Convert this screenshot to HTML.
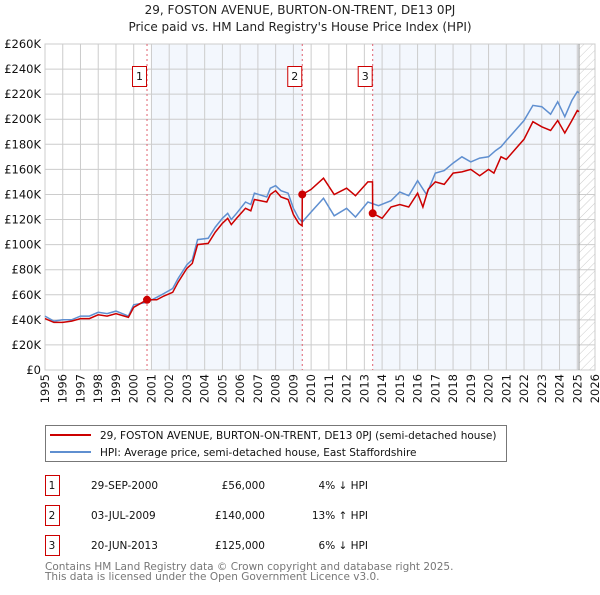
<!DOCTYPE html>
<html><head><meta charset="utf-8"><style>
body{margin:0;background:#fff;width:600px;height:590px;overflow:hidden;font-family:"Liberation Sans","DejaVu Sans",sans-serif;}
svg text{font-family:"DejaVu Sans","Liberation Sans",sans-serif;}
</style></head><body>
<svg id="chart" width="600" height="590" xmlns="http://www.w3.org/2000/svg">
<text x="300" y="14" text-anchor="middle" font-size="12" fill="#222">29, FOSTON AVENUE, BURTON-ON-TRENT, DE13 0PJ</text>
<text x="300" y="31" text-anchor="middle" font-size="12" fill="#222">Price paid vs. HM Land Registry's House Price Index (HPI)</text>
<g id="plot"></g>
<rect x="45.5" y="425.5" width="461" height="36" fill="#fff" stroke="#777"/>
<line x1="50" y1="435" x2="91" y2="435" stroke="#cc0000" stroke-width="2"/>
<text x="100" y="439" font-size="10.5" fill="#111">29, FOSTON AVENUE, BURTON-ON-TRENT, DE13 0PJ (semi-detached house)</text>
<line x1="50" y1="452" x2="91" y2="452" stroke="#5f8fd0" stroke-width="2"/>
<text x="100" y="456" font-size="10.5" fill="#111">HPI: Average price, semi-detached house, East Staffordshire</text>
<g id="table" font-size="10.5" fill="#111"></g>
<text x="45" y="570" font-size="10.5" fill="#777">Contains HM Land Registry data © Crown copyright and database right 2025.</text>
<text x="45" y="580" font-size="10.5" fill="#777">This data is licensed under the Open Government Licence v3.0.</text>
</svg>
<script>
const hpiYears=[1995,1995.5,1996,1996.5,1997,1997.5,1998,1998.5,1999,1999.7,2000,2000.75,2001.3,2001.7,2002.2,2002.5,2003,2003.3,2003.6,2004.2,2004.6,2005,2005.3,2005.5,2005.8,2006.3,2006.6,2006.8,2007.5,2007.7,2008,2008.3,2008.7,2009,2009.3,2009.5,2010,2010.7,2011.3,2012,2012.5,2013.2,2013.8,2014.5,2015,2015.5,2016,2016.5,2017,2017.5,2018,2018.5,2019,2019.5,2020,2020.4,2020.7,2021,2021.5,2022,2022.5,2023,2023.5,2023.9,2024.3,2024.7,2025,2025.1];
const hpiValues=[43,39,40,40,43,43,46,45,47,43,52,54,58,61,65,73,84,88,104,105,114,121,125,120,125,134,132,141,138,145,147,143,141,129,121,118,126,137,123,129,122,134,131,135,142,139,151,140,157,159,165,170,166,169,170,175,178,183,191,199,211,210,204,214,202,215,222,221];
const priceYears=[1995,1995.5,1996,1996.5,1997,1997.5,1998,1998.5,1999,1999.7,2000,2000.75,2001.3,2001.7,2002.2,2002.5,2003,2003.3,2003.6,2004.2,2004.6,2005,2005.3,2005.5,2005.8,2006.3,2006.6,2006.8,2007.5,2007.7,2008,2008.3,2008.7,2009,2009.3,2009.49,2009.5,2010,2010.7,2011.3,2012,2012.5,2013.2,2013.46,2013.47,2014,2014.5,2015,2015.5,2016,2016.3,2016.6,2017,2017.5,2018,2018.5,2019,2019.5,2020,2020.3,2020.7,2021,2021.5,2022,2022.5,2023,2023.5,2023.9,2024.3,2024.7,2025,2025.1];
const priceValues=[41,38,38,39,41,41,44,43,45,42,50,56,56,59,62,70,81,85,100,101,110,117,121,116,121,129,127,136,134,140,143,138,136,124,117,115,140,144,153,140,145,139,150,150,125,121,130,132,130,141,130,144,150,148,157,158,160,155,160,157,170,168,176,184,198,194,191,199,189,199,207,206];
const saleYears=[2000.75,2009.5,2013.47];
const saleValues=[56,140,125];
const saleLabels=["1","2","3"];
const saleDates=["29-SEP-2000","03-JUL-2009","20-JUN-2013"];
const salePrices=["£56,000","£140,000","£125,000"];
const saleHpi=["4% ↓ HPI","13% ↑ HPI","6% ↓ HPI"];
const yTicks=[0,20,40,60,80,100,120,140,160,180,200,220,240,260];
const xTicks=[1995,1996,1997,1998,1999,2000,2001,2002,2003,2004,2005,2006,2007,2008,2009,2010,2011,2012,2013,2014,2015,2016,2017,2018,2019,2020,2021,2022,2023,2024,2025,2026];

const NS="http://www.w3.org/2000/svg";
const L=45,R=595,T=44,B=370,X0=1995,X1=2026,YMAX=260;
const xs=v=>L+(v-X0)/(X1-X0)*(R-L);
const ys=v=>B-v/YMAX*(B-T);
const plot=document.getElementById('plot');
function mk(tag,attrs,parent){const e=document.createElementNS(NS,tag);for(const k in attrs)e.setAttribute(k,attrs[k]);(parent||plot).appendChild(e);return e;}
const dataEnd=2025.1;
// shading
let e;
e=mk('rect',{x:xs(2001),y:T,width:xs(saleYears[1])-xs(2001),height:B-T,fill:'#eef3fc',opacity:0.7});


e=mk('rect',{x:xs(saleYears[2]),y:T,width:xs(dataEnd)-xs(saleYears[2]),height:B-T,fill:'#eef3fc',opacity:0.7});


// hatch
const defs=mk('defs',{});
const pat=mk('pattern',{id:'hatch',width:6,height:6,patternUnits:'userSpaceOnUse',patternTransform:'rotate(45)'},defs);
mk('line',{x1:0,y1:0,x2:0,y2:6,stroke:'#ccc','stroke-width':1},pat);
e=mk('rect',{x:xs(dataEnd),y:T,width:R-xs(dataEnd),height:B-T,fill:'url(#hatch)'});


// grid
yTicks.forEach(t=>{
  const g=mk('line',{x1:L,x2:R,y1:ys(t),y2:ys(t),stroke:'#ccc','stroke-width':1});
  
  
  const tx=mk('text',{x:L-4,y:ys(t)+4,'text-anchor':'end','font-size':11.5,fill:'#111'});
  tx.textContent=t===0?'£0':'£'+t+'K';
  
  
});
xTicks.forEach(t=>{
  const g=mk('line',{x1:xs(t),x2:xs(t),y1:T,y2:B,stroke:'#ccc','stroke-width':1});
  
  
  const tx=mk('text',{x:0,y:0,'text-anchor':'end','font-size':11.5,fill:'#111',transform:`translate(${xs(t)+4},374) rotate(-90)`});
  tx.textContent=t;
  
  
});
e=mk('rect',{x:L,y:T,width:R-L,height:B-T,fill:'none',stroke:'#ccc'});


e=mk('line',{x1:xs(dataEnd),x2:xs(dataEnd),y1:T,y2:B,stroke:'#999','stroke-width':1});


// sale vlines and labels
saleYears.forEach((y,i)=>{
  const l=mk('line',{x1:xs(y),x2:xs(y),y1:T,y2:B,stroke:'#e06070','stroke-width':1,'stroke-dasharray':'2,3'});
  
  
  const r=mk('rect',{x:xs(y)-14.5,y:66.5,width:14,height:20,fill:'#fff',stroke:'#c00'});
  
  
  const t=mk('text',{x:xs(y)-7.5,y:80,'text-anchor':'middle','font-size':11,fill:'#111'});
  t.textContent=saleLabels[i];
  
  
});
function path(xa,va){return xa.map((x,i)=>(i?'L':'M')+xs(x).toFixed(1)+','+ys(va[i]).toFixed(1)).join('');}
e=mk('path',{d:path(hpiYears,hpiValues),fill:'none',stroke:'#5f8fd0','stroke-width':1.5});


e=mk('path',{d:path(priceYears,priceValues),fill:'none',stroke:'#cc0000','stroke-width':1.5});


saleYears.forEach((y,i)=>{
  const c=mk('circle',{cx:xs(y),cy:ys(saleValues[i]),r:4,fill:'#cc0000'});
  
  
});
// table
const tb=document.getElementById('table');
saleYears.forEach((y,i)=>{
  const yy=475+i*30;
  const r=mk('rect',{x:45.5,y:yy+0.5,width:14,height:20,fill:'#fff',stroke:'#c00'},tb);
  
  
  const cells=[[52,'middle',saleLabels[i]],[91,'start',saleDates[i]],[265,'end',salePrices[i]],[368,'end',saleHpi[i]]];
  cells.forEach(c=>{
    const t=mk('text',{x:c[0],y:yy+14,'text-anchor':c[1]},tb);
    t.textContent=c[2];
    
    
  });
});
</script>
</body></html>
